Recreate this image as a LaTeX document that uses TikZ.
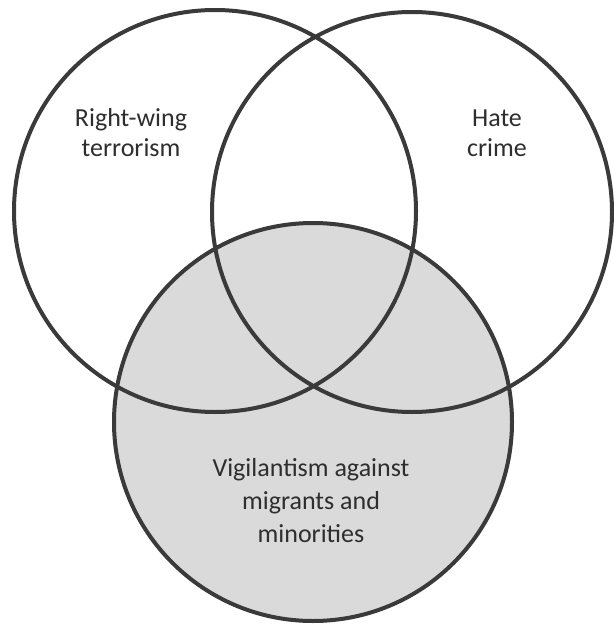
\documentclass[tikz,border=0pt]{standalone}
\usepackage{fontspec}
\setmainfont{Carlito}
\definecolor{ringcol}{RGB}{58,58,58}
\definecolor{fillcol}{RGB}{218,218,218}
\begin{document}
\begin{tikzpicture}[x=1pt,y=-1pt,
  ring/.style={draw=ringcol,line width=4pt},
  lbl/.style={align=center,inner sep=0pt,text=ringcol!80!black,font=\fontsize{26}{30}\selectfont}]
\useasboundingbox (0,0) rectangle (613,626);
\fill[white] (0,0) rectangle (613,626);
\coordinate (cl) at (215,211);
\coordinate (cr) at (412,212);
\coordinate (cb) at (313,422);
\fill[fillcol] (cb) circle[radius=199];
\draw[ring] (cl) circle[radius=201];
\draw[ring] (cr) circle[radius=200];
\draw[ring] (cb) circle[radius=199];
\node[lbl] (rw) at (131,132.5) {Right-wing\\terrorism};
\node[lbl] (hc) at (497,133.5) {Hate\\crime};
\node[lbl,font=\fontsize{26}{33}\selectfont] (vg) at (311,500.5) {Vigilantism against\\migrants and\\minorities};
\end{tikzpicture}
\end{document}
